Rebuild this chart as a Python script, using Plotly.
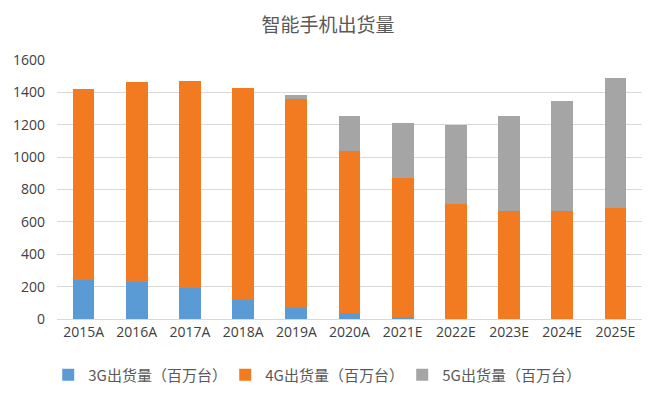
import plotly.graph_objects as go

categories = ["2015A", "2016A", "2017A", "2018A", "2019A", "2020A",
              "2021E", "2022E", "2023E", "2024E", "2025E"]
g3 = [240, 230, 190, 120, 70, 40, 10, 0, 0, 0, 0]
g4 = [1180, 1232, 1280, 1307, 1290, 1000, 858, 711, 668, 668, 685]
g5 = [0, 0, 0, 0, 25, 216, 341, 490, 586, 680, 804]
series_names = ["3G出货量（百万台）", "4G出货量（百万台）", "5G出货量（百万台）"]
colors = ["#5B9BD5", "#F27B22", "#A5A5A5"]
y_ticks = [0, 200, 400, 600, 800, 1000, 1200, 1400, 1600]

font_family = "Open Sans, Noto Sans CJK SC, sans-serif"

fig = go.Figure()
for name, vals, c in zip(series_names, [g3, g4, g5], colors):
    fig.add_trace(go.Bar(x=categories, y=vals, name=name, marker_color=c,
                         marker_line_width=0))

fig.update_layout(
    barmode="stack",
    bargap=0.59,
    width=647, height=399,
    margin=dict(l=49, r=13, t=52, b=88),
    paper_bgcolor="white", plot_bgcolor="white",
    font=dict(family=font_family, size=14, color="#404040"),
    title=dict(text="智能手机出货量", x=0.4946, xanchor="center", y=1 - 17/399, yanchor="middle",
               font=dict(family="Noto Sans CJK SC, sans-serif", size=19, color="#595959")),
    legend=dict(orientation="h", x=-0.015, xanchor="left", y=-0.216, yanchor="middle",
                font=dict(family="Noto Sans CJK SC, sans-serif", size=15, color="#595959"),
                itemwidth=30, traceorder="normal", entrywidth=132, entrywidthmode="pixels"),
    xaxis=dict(showline=True, linecolor="#D9D9D9", linewidth=1, ticks="",
               automargin=False, tickfont=dict(size=14, color="#404040")),
    yaxis=dict(range=[0, 1600], tickvals=y_ticks, showgrid=True, gridcolor="#D9D9D9",
               zeroline=False, ticks="", ticklabelstandoff=11, automargin=False,
               tickfont=dict(size=14, color="#404040")),
)

fig.write_html("out.html")
